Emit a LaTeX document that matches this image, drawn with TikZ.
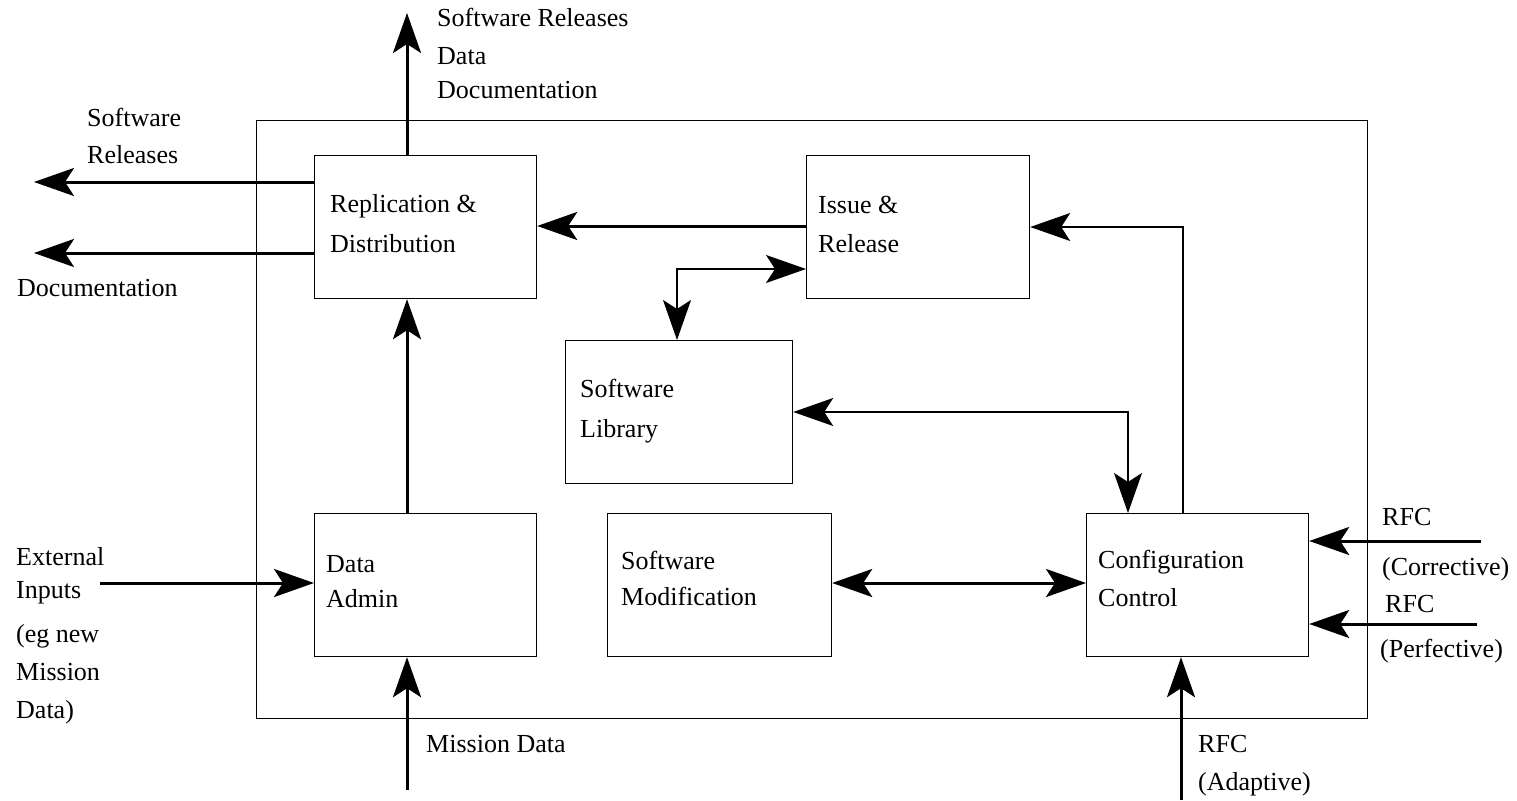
\documentclass[tikz,border=0pt]{standalone}
\usepackage{fontspec}
\setmainfont{Liberation Serif}
\usetikzlibrary{arrows.meta}
\begin{document}
\begin{tikzpicture}[x=1pt,y=-1pt,
  box/.style={draw, line width=1.2pt, inner sep=0pt, anchor=north west, minimum height=143pt},
  lbl/.style={anchor=base west, inner sep=0pt, font=\fontsize{26}{40}\selectfont},
  tip/.style={-{Stealth[length=40pt,width=28pt,inset=9pt]}},
  tips/.style={{Stealth[length=40pt,width=28pt,inset=9pt]}-{Stealth[length=40pt,width=28pt,inset=9pt]}},
  thickline/.style={line width=3pt},
  thinline/.style={line width=1.2pt}]
\useasboundingbox (0,0) rectangle (1517,800);
% frame
\node[draw, line width=1.2pt, inner sep=0pt, anchor=north west, minimum width=1111pt, minimum height=598pt] (frame) at (256,120) {};
% boxes
\node[box, minimum width=222pt] (repl) at (314,155) {};
\node[box, minimum width=223pt] (issue) at (806,155) {};
\node[box, minimum width=227pt] (lib) at (565,340) {};
\node[box, minimum width=222pt] (admin) at (314,513) {};
\node[box, minimum width=224pt] (mod) at (607,513) {};
\node[box, minimum width=222pt] (conf) at (1086,513) {};
% box texts
\node[lbl] (t1) at (330,212) {Replication \&};
\node[lbl] (t2) at (330,252) {Distribution};
\node[lbl] (t3) at (818,213) {Issue \&};
\node[lbl] (t4) at (818,252) {Release};
\node[lbl] (t5) at (580,397) {Software};
\node[lbl] (t6) at (580,437) {Library};
\node[lbl] (t7) at (326,572) {Data};
\node[lbl] (t8) at (326,607) {Admin};
\node[lbl] (t9) at (621,569) {Software};
\node[lbl] (t10) at (621,605) {Modification};
\node[lbl] (t11) at (1098,568) {Configuration};
\node[lbl] (t12) at (1098,606) {Control};
% outside labels
\node[lbl] (o1) at (437,27) {Software Releases};
\node[lbl] (o2) at (437,65) {Data};
\node[lbl] (o3) at (437,98) {Documentation};
\node[lbl] (o4) at (87,126) {Software};
\node[lbl] (o5) at (87,163) {Releases};
\node[lbl] (o6) at (17,296) {Documentation};
\node[lbl] (o7) at (16,565) {External};
\node[lbl] (o8) at (16,598) {Inputs};
\node[lbl] (o9) at (16,642) {(eg new};
\node[lbl] (o10) at (16,680) {Mission};
\node[lbl] (o11) at (16,718) {Data)};
\node[lbl] (o12) at (426,752) {Mission Data};
\node[lbl] (o13) at (1198,752) {RFC};
\node[lbl] (o14) at (1198,790) {(Adaptive)};
\node[lbl] (o15) at (1382,525) {RFC};
\node[lbl] (o16) at (1382,575) {(Corrective)};
\node[lbl] (o17) at (1385,612) {RFC};
\node[lbl] (o18) at (1380,657) {(Perfective)};
% free ends
\coordinate (outTop) at (407,13);
\coordinate (outSW) at (34,182);
\coordinate (outDoc) at (34,253);
\coordinate (extIn) at (100,583);
\coordinate (misIn) at (407,790);
\coordinate (adIn) at (1181,800);
\coordinate (corIn) at (1481,541);
\coordinate (perIn) at (1477,624);
% connectors
\draw[thickline,tip] (repl.north -| outTop) -- (outTop);
\draw[thickline,tip] (repl.west |- outSW) -- (outSW);
\draw[thickline,tip] (repl.west |- outDoc) -- (outDoc);
\draw[thickline,tip] (issue.west |- 0,226) -- (repl.east |- 0,226);
\draw[thinline,tips] (issue.west |- 0,269) -| (lib.north -| 677,0);
\draw[thinline,tip] (conf.north -| 1183,0) |- (issue.east |- 0,227);
\draw[thinline,tips] (lib.east |- 0,412) -| (conf.north -| 1128,0);
\draw[thickline,tip] (admin.north -| outTop) -- (repl.south -| outTop);
\draw[thickline,tips] (mod.east |- 0,583) -- (conf.west |- 0,583);
\draw[thickline,tip] (extIn) -- (admin.west |- extIn);
\draw[thickline,tip] (misIn) -- (admin.south -| misIn);
\draw[thickline,tip] (adIn) -- (conf.south -| adIn);
\draw[thickline,tip] (corIn) -- (conf.east |- corIn);
\draw[thickline,tip] (perIn) -- (conf.east |- perIn);
\end{tikzpicture}
\end{document}
